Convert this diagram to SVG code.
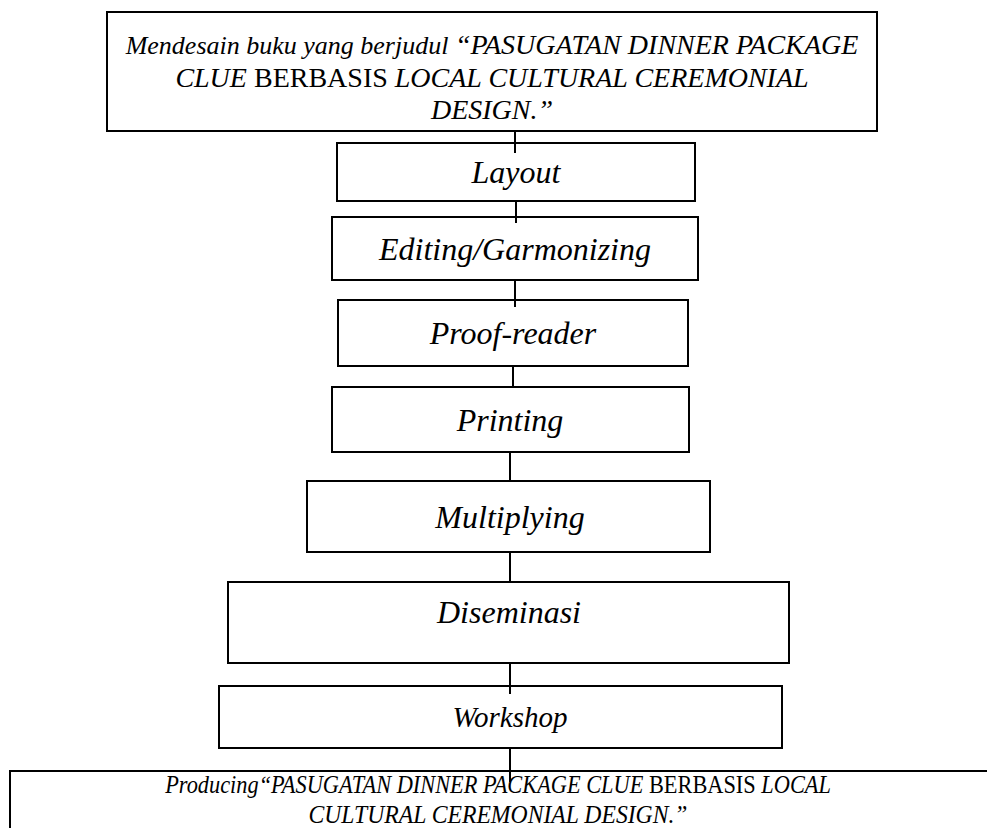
<svg xmlns="http://www.w3.org/2000/svg" width="987" height="828" viewBox="0 0 987 828">
<style>
.box{fill:#fff;stroke:#000;stroke-width:2}
.t{font-family:"Liberation Serif","Times New Roman",serif;font-style:italic;fill:#000;text-anchor:middle}
.n{font-style:normal}
.lbl{font-size:32px}
.big{font-size:28px}
.bot{font-size:26px}
.con line{stroke:#000;stroke-width:2}
</style>
<rect width="987" height="828" fill="#fff"/>
<g id="n-top">
<rect class="box" x="107" y="12" width="770" height="119"/>
<text class="t big" x="492" y="54"><tspan font-size="26">Mendesain buku yang berjudul </tspan>“PASUGATAN DINNER PACKAGE</text>
<text class="t big" x="492" y="87">CLUE <tspan class="n">BERBASIS</tspan> LOCAL CULTURAL CEREMONIAL</text>
<text class="t big" x="492" y="119">DESIGN.”</text>
</g>
<g id="n-layout">
<rect class="box" x="337" y="143" width="358" height="58"/>
<text class="t lbl" x="516" y="183">Layout</text>
</g>
<g id="n-editing">
<rect class="box" x="332" y="217" width="366" height="63"/>
<text class="t lbl" x="515" y="260">Editing/Garmonizing</text>
</g>
<g id="n-proof">
<rect class="box" x="338" y="300" width="350" height="66"/>
<text class="t lbl" x="513" y="344">Proof-reader</text>
</g>
<g id="n-printing">
<rect class="box" x="332" y="387" width="357" height="65"/>
<text class="t lbl" x="510" y="431">Printing</text>
</g>
<g id="n-multiplying">
<rect class="box" x="307" y="481" width="403" height="71"/>
<text class="t lbl" x="510" y="528">Multiplying</text>
</g>
<g id="n-diseminasi">
<rect class="box" x="228" y="582" width="561" height="81"/>
<text class="t lbl" x="509" y="623">Diseminasi</text>
</g>
<g id="n-workshop">
<rect class="box" x="219" y="686" width="563" height="62"/>
<text class="t" font-size="29" x="510" y="727">Workshop</text>
</g>
<g id="n-bottom">
<path d="M10 830 V771 H990" fill="none" stroke="#000" stroke-width="2"/>
<text class="t bot" transform="translate(498 793) scale(0.86 1)" x="0" y="0">Producing“PASUGATAN DINNER PACKAGE CLUE <tspan class="n">BERBASIS</tspan> LOCAL</text>
<text class="t bot" transform="translate(498 823) scale(0.91 1)" x="0" y="0">CULTURAL CEREMONIAL DESIGN.”</text>
</g>
<g id="connectors" class="con">
<line x1="515" y1="131" x2="515" y2="153"/>
<line x1="516" y1="201" x2="516" y2="223"/>
<line x1="515" y1="280" x2="515" y2="307"/>
<line x1="513" y1="366" x2="513" y2="387"/>
<line x1="510" y1="452" x2="510" y2="481"/>
<line x1="510" y1="552" x2="510" y2="582"/>
<line x1="510" y1="663" x2="510" y2="694"/>
<line x1="510" y1="748" x2="510" y2="782"/>
</g>
</svg>
